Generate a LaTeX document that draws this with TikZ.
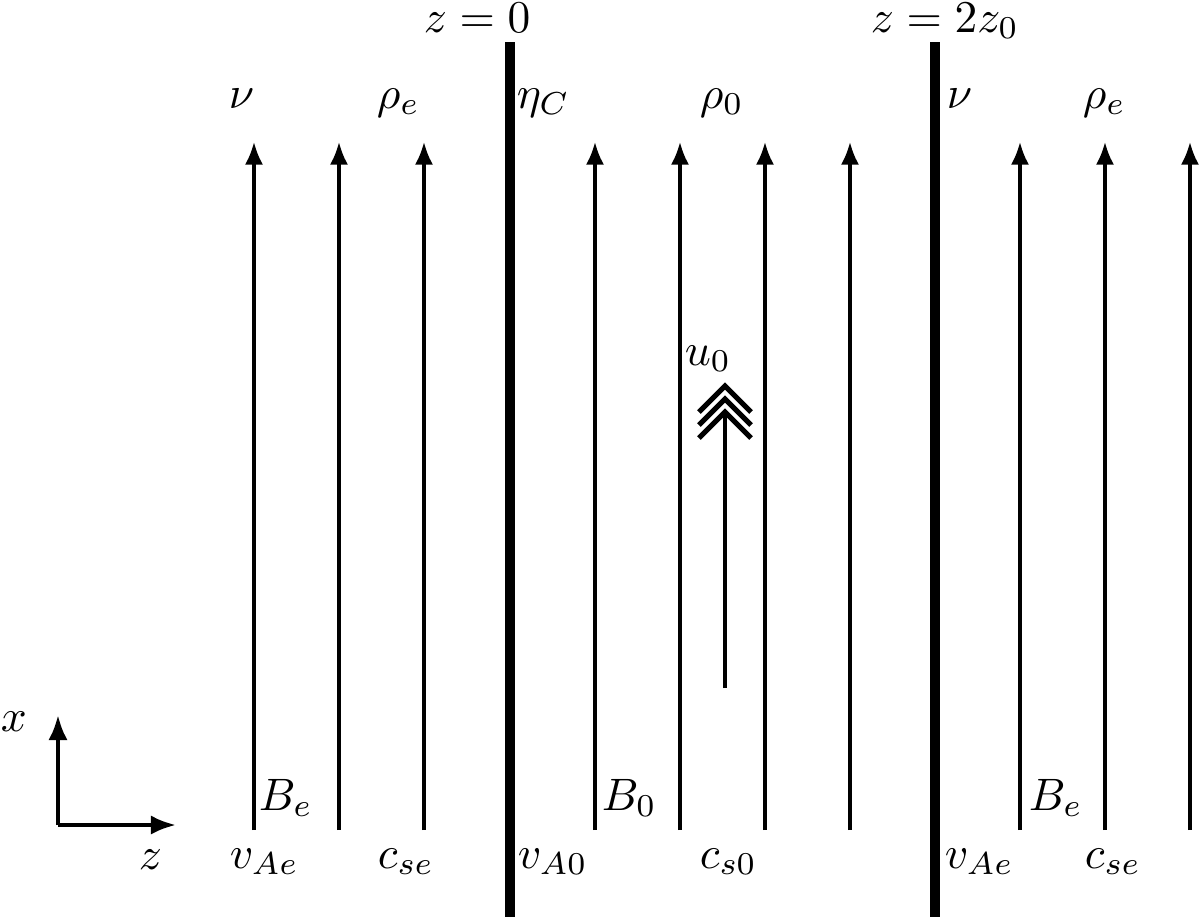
\documentclass[tikz,border=0pt]{standalone}
\usepackage{tikz}
\usetikzlibrary{arrows.meta}
\tikzset{
    field/.style={ line width=0.7pt, -{Latex[length=5pt,width=4pt]} },
    wall/.style={ line width=2.3pt },
    axis/.style={ line width=0.9pt, -{Latex[length=5.5pt,width=4.2pt]} },
    flow/.style={ line width=0.9pt },
    chevron/.style={ line width=1.1pt, line cap=butt, line join=miter },
    lbl/.style={ anchor=base west, inner sep=0pt }
}

\begin{document}
\begin{tikzpicture}[x=0.22pt,y=-0.22pt]
        \useasboundingbox (0,0) rectangle (1200,917);

        % interfaces
        \draw[wall] (510,42) -- (510,917);
        \draw[wall] (935,42) -- (935,917);
        \node[lbl] (zzero) at (423,32) {$z=0$};
        \node[lbl] (ztwo) at (870,32) {$z=2z_0$};

        % field lines
        \foreach \x in {254,339,424,595,680,765,850,1020,1105,1190}
            \draw[field] (\x,830) -- (\x,142);

        % top labels
        \node[lbl] (nuL) at (228,108) {$\nu$};
        \node[lbl] (rhoL) at (376,108) {$\rho_e$};
        \node[lbl] (eta) at (516,108) {$\eta_C$};
        \node[lbl] (rhoM) at (699,108) {$\rho_0$};
        \node[lbl] (nuR) at (946,108) {$\nu$};
        \node[lbl] (rhoR) at (1082,108) {$\rho_e$};

        % bottom labels
        \node[lbl] (BeL) at (258,810) {$B_e$};
        \node[lbl] (BM) at (601,810) {$B_0$};
        \node[lbl] (BeR) at (1028,810) {$B_e$};
        \node[lbl] (vAeL) at (229,868) {$v_{Ae}$};
        \node[lbl] (cseL) at (377,868) {$c_{se}$};
        \node[lbl] (vAM) at (517,868) {$v_{A0}$};
        \node[lbl] (csM) at (699,868) {$c_{s0}$};
        \node[lbl] (vAeR) at (944,868) {$v_{Ae}$};
        \node[lbl] (cseR) at (1084,868) {$c_{se}$};

        % flow
        \coordinate (ufoot) at (725,688);
        \coordinate (utip) at (725,386);
        \draw[flow] (ufoot) -- ([yshift=-26*0.22pt]utip);
        \foreach \d in {0,13,26}
            \draw[chevron] ([shift={(-26,26+\d)}]utip) -- ([shift={(0,\d)}]utip) -- ([shift={(26,26+\d)}]utip);
        \node[lbl] (ulbl) at (684,365) {$u_0$};

        % axes
        \coordinate (origin) at (58,825);
        \draw[axis] (origin) -- (58,715);
        \draw[axis] (origin) -- (176,825);
        \node[lbl] (xlbl) at (0,731) {$x$};
        \node[lbl] (zlbl) at (138,869) {$z$};
    \end{tikzpicture}
\end{document}
